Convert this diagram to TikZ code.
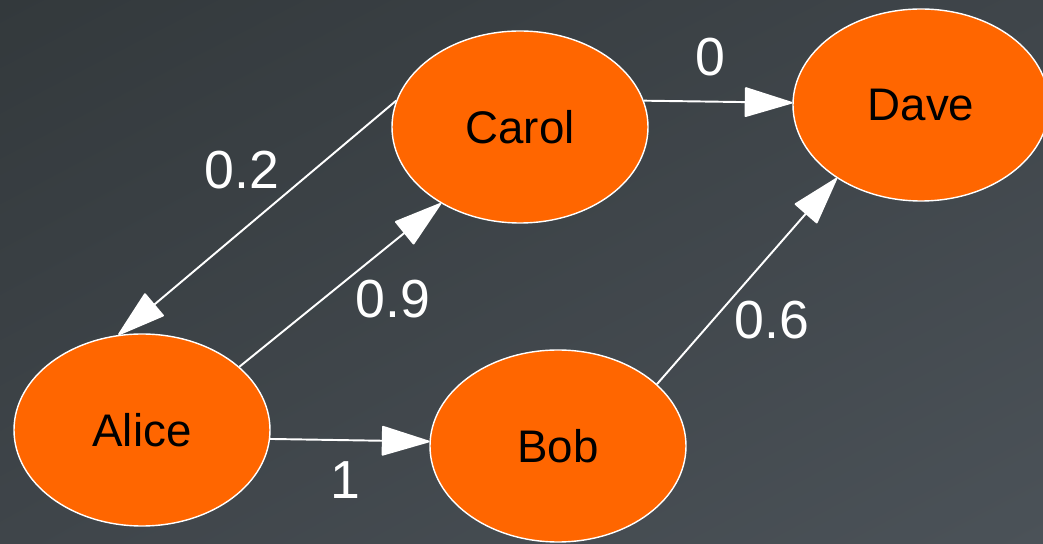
\documentclass[tikz,border=0pt]{standalone}
\usepackage{fontspec}
\setmainfont{Liberation Sans}
\usetikzlibrary{arrows.meta,shapes.geometric,shadings}
\definecolor{cPerson}{HTML}{FF6600}
\definecolor{cBgDark}{HTML}{33393C}
\definecolor{cBgMid}{HTML}{3F454A}
\definecolor{cBgLight}{HTML}{4B5258}

\begin{document}
\begin{tikzpicture}[
    person/.style={ellipse,draw=white,fill=cPerson,line width=0.8pt,
      minimum width=5.12cm,minimum height=3.84cm,inner sep=0pt,
      font=\fontsize{26}{30}\selectfont},
    weight/.style={text=white,inner sep=0pt,font=\fontsize{30.5}{34}\selectfont},
    link/.style={draw=white,line width=1.1pt,
      -{Triangle[length=1cm,width=0.6cm,round]}}]
  % backdrop
  \shade[upper left=cBgDark,upper right=cBgMid,lower left=cBgMid,lower right=cBgLight]
    (0,0) rectangle (20.86,10.88);
  \useasboundingbox (0,0) rectangle (20.86,10.88);

  % people
  \node[person] (alice) at (2.84,2.28) {Alice};
  \node[person] (bob)   at (11.16,1.96) {Bob};
  \node[person] (carol) at (10.40,8.34) {Carol};
  \node[person] (dave)  at (18.42,8.78) {Dave};

  % weighted links
  \draw[link] (carol.168) -- (alice.104);
  \draw[link] (alice.33)  -- (carol.224);
  \draw[link] (carol.12)  -- (dave.179);
  \draw[link] (alice.-4)  -- (bob.178);
  \draw[link] (bob.32)    -- (dave.221);

  \node[weight] (wCA) at (4.84,7.48) {0.2};
  \node[weight] (wAC) at (7.86,4.90) {0.9};
  \node[weight] (wCD) at (14.20,9.74) {0};
  \node[weight] (wAB) at (6.90,1.28) {1};
  \node[weight] (wBD) at (15.44,4.48) {0.6};
\end{tikzpicture}
\end{document}
